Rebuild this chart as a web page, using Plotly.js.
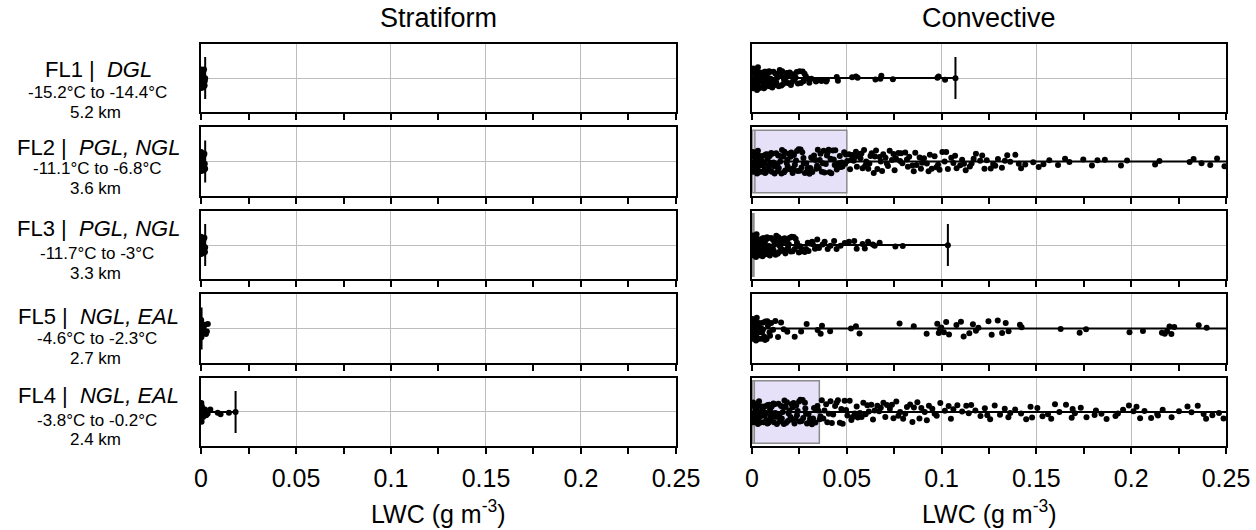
<!DOCTYPE html>
<html>
<head>
<meta charset="utf-8">
<script src="https://cdn.plot.ly/plotly-3.0.1.min.js"></script>
<style>html,body{margin:0;padding:0;background:#fff;}#chart{width:1256px;height:530px;}</style>
</head>
<body>
<div id="chart"></div>
<script>
// ---------- DATA ----------
const flightLegs = ['FL1', 'FL2', 'FL3', 'FL5', 'FL4'];
const regimes = ['DGL', 'PGL, NGL', 'PGL, NGL', 'NGL, EAL', 'NGL, EAL'];
const tempRanges = ['-15.2°C to -14.4°C', '-11.1°C to -6.8°C', '-11.7°C to -3°C', '-4.6°C to -2.3°C', '-3.8°C to -0.2°C'];
const altitudes = ['5.2 km', '3.6 km', '3.3 km', '2.7 km', '2.4 km'];
const panelTitles = ['Stratiform', 'Convective'];
const xTitle = 'LWC (g m<sup>-3</sup>)';

// Stratiform LWC samples (g m-3)
const stratFL1 = [0.0000,0.0001,0.0002,0.0002,0.0004,0.0004,0.0005,0.0007,0.0007,0.0008,0.0010,0.0011,0.0011,0.0013,0.0014,0.0016,0.0017,0.0019,0.0020,0.0022];
const stratFL2 = [0.0000,0.0001,0.0001,0.0003,0.0004,0.0005,0.0006,0.0006,0.0008,0.0009,0.0010,0.0012,0.0013,0.0015,0.0017,0.0018,0.0020,0.0022];
const stratFL3 = [0.0000,0.0000,0.0001,0.0002,0.0003,0.0004,0.0004,0.0006,0.0007,0.0009,0.0010,0.0011,0.0013,0.0014,0.0016,0.0018,0.0019,0.0021,0.0022];
const stratFL5 = [0.0000,0.0001,0.0001,0.0002,0.0003,0.0004,0.0006,0.0007,0.0009,0.0011,0.0014,0.0017,0.0021,0.0026,0.0031,0.0036];
const stratFL4 = [0.0000,0.0001,0.0002,0.0003,0.0003,0.0005,0.0006,0.0008,0.0009,0.0011,0.0014,0.0016,0.0021,0.0027,0.0035,0.0049,0.0088,0.0103,0.0147,0.0182];

// Convective LWC samples (g m-3)
const convFL1 = [0.0002,0.0004,0.0008,0.0009,0.0013,0.0014,0.0017,0.0021,0.0022,0.0026,0.0028,0.0031,0.0033,0.0037,0.0040,0.0042,0.0046,0.0049,0.0051,0.0055,0.0058,0.0062,0.0063,0.0069,0.0072,0.0074,0.0079,0.0084,0.0086,0.0092,0.0095,0.0101,0.0107,0.0110,0.0117,0.0120,0.0128,0.0132,0.0138,0.0146,0.0151,0.0159,0.0164,0.0173,0.0178,0.0188,0.0194,0.0205,0.0211,0.0223,0.0230,0.0242,0.0251,0.0267,0.0271,0.0284,0.0295,0.0313,0.0337,0.0343,0.0366,0.0391,0.0395,0.0447,0.0453,0.0528,0.0548,0.0557,0.0651,0.0677,0.0682,0.0743,0.0978,0.0984,0.1018,0.1073,
  0.0006,0.0011,0.0019,0.0024,0.0035,0.0044,0.0053,0.0067,0.0077,0.0089,0.0098,0.0113,0.0124,0.0141,0.0155,0.0168,0.0183,0.0199,0.0216,0.0236,0.0258,0.0277,0.0302];
const convFL2 = [0.0002,0.0004,0.0007,0.0009,0.0011,0.0013,0.0016,0.0018,0.0021,0.0024,0.0025,0.0029,0.0031,0.0034,0.0038,0.0041,0.0043,0.0047,0.0052,0.0054,0.0058,0.0063,0.0066,0.0069,0.0074,0.0079,0.0082,0.0086,0.0093,0.0097,0.0101,0.0106,0.0113,0.0116,0.0122,0.0127,0.0133,0.0138,0.0141,0.0149,0.0155,0.0158,0.0166,0.0171,0.0175,0.0183,0.0188,0.0194,0.0203,0.0207,0.0214,0.0221,0.0226,0.0232,0.0241,0.0246,0.0252,0.0261,0.0265,0.0273,0.0279,0.0286,0.0294,0.0298,0.0307,0.0312,0.0318,0.0327,0.0334,0.0339,0.0347,0.0352,0.0361,0.0368,0.0373,0.0382,0.0389,0.0395,0.0404,0.0409,0.0418,0.0426,0.0431,0.0439,0.0447,0.0452,0.0463,0.0468,0.0477,0.0486,0.0491,0.0502,0.0511,0.0517,0.0528,0.0536,0.0544,0.0553,0.0566,0.0572,0.0583,0.0591,0.0602,0.0613,0.0619,0.0631,0.0642,0.0648,0.0661,0.0673,0.0679,0.0692,0.0704,0.0711,0.0726,0.0738,0.0746,0.0759,0.0772,0.0781,0.0793,0.0808,0.0817,0.0829,0.0846,0.0853,0.0868,0.0884,0.0891,0.0907,0.0922,0.0931,0.0948,0.0963,0.0972,0.0989,0.1004,0.1016,0.1033,0.1051,0.1062,0.1079,0.1098,0.1108,0.1127,0.1149,0.1158,0.1181,0.1203,0.1214,0.1238,0.1259,0.1272,0.1297,0.1318,0.1334,0.1362,0.1389,0.1407,0.1441,0.1483,0.1512,0.1537,0.1568,0.1614,0.1651,0.1674,0.1747,0.1793,0.1822,0.1861,0.1946,0.1978,0.2126,0.2149,0.2308,0.2329,0.2371,0.2417,0.2453,0.2492,
  0.0005,0.0015,0.0027,0.0036,0.0049,0.0061,0.0072,0.0089,0.0104,0.0119,0.0136,0.0152,0.0169,0.0186,0.0199,0.0218,0.0237,0.0256,0.0271,0.0289,0.0303,0.0322,0.0343,0.0357,0.0378,0.0399,0.0414,0.0436,0.0458,0.0473,0.0495,0.0522,0.0548,0.0577,0.0597,0.0625,0.0654,0.0686,0.0717,0.0752,0.0786,0.0822,0.0861,0.0897,0.0938,0.0981,0.1024,0.1071,0.1118,0.1169,0.1226,0.1283,0.1346,0.1419];
const convFL3 = [0.0001,0.0003,0.0004,0.0007,0.0008,0.0010,0.0012,0.0013,0.0016,0.0018,0.0019,0.0022,0.0024,0.0027,0.0029,0.0031,0.0034,0.0037,0.0039,0.0043,0.0046,0.0048,0.0052,0.0055,0.0057,0.0062,0.0066,0.0068,0.0073,0.0077,0.0079,0.0085,0.0088,0.0094,0.0097,0.0104,0.0107,0.0114,0.0117,0.0124,0.0128,0.0135,0.0139,0.0147,0.0151,0.0159,0.0163,0.0172,0.0176,0.0185,0.0190,0.0199,0.0205,0.0214,0.0220,0.0230,0.0237,0.0247,0.0254,0.0265,0.0273,0.0285,0.0294,0.0307,0.0317,0.0332,0.0344,0.0353,0.0372,0.0383,0.0399,0.0414,0.0433,0.0446,0.0467,0.0489,0.0511,0.0539,0.0552,0.0583,0.0595,0.0612,0.0637,0.0647,0.0673,0.0756,0.0795,0.1033,
  0.0006,0.0014,0.0021,0.0033,0.0041,0.0050,0.0059,0.0071,0.0082,0.0091,0.0101,0.0111,0.0121,0.0132,0.0143,0.0155,0.0167,0.0181,0.0194,0.0209,0.0225,0.0241,0.0259,0.0278,0.0298,0.0321,0.0338];
const convFL5 = [0.0001,0.0002,0.0004,0.0006,0.0007,0.0010,0.0012,0.0014,0.0017,0.0019,0.0022,0.0025,0.0028,0.0032,0.0035,0.0039,0.0043,0.0048,0.0053,0.0058,0.0064,0.0070,0.0077,0.0084,0.0092,0.0101,0.0111,0.0123,0.0137,0.0153,0.0167,0.0186,0.0225,0.0259,0.0288,0.0346,0.0362,0.0369,0.0412,0.0522,0.0548,0.0567,0.0778,0.0853,0.0921,0.0977,0.0985,0.0991,0.0998,0.1012,0.1024,0.1039,0.1078,0.1102,0.1116,0.1146,0.1165,0.1181,0.1194,0.1247,0.1264,0.1296,0.1319,0.1338,0.1353,0.1413,0.1422,0.1628,0.1728,0.1762,0.1991,0.2062,0.2162,0.2177,0.2189,0.2202,0.2212,0.2227,0.2356,0.2398,
  0.0003,0.0009,0.0015,0.0021,0.0030,0.0037,0.0046,0.0056,0.0068,0.0081,0.0095];
const convFL4 = [0.0003,0.0004,0.0009,0.0011,0.0012,0.0018,0.0020,0.0025,0.0026,0.0031,0.0037,0.0038,0.0043,0.0049,0.0050,0.0056,0.0061,0.0064,0.0069,0.0073,0.0081,0.0083,0.0088,0.0095,0.0097,0.0104,0.0109,0.0116,0.0118,0.0126,0.0131,0.0135,0.0144,0.0147,0.0153,0.0162,0.0165,0.0171,0.0180,0.0184,0.0189,0.0197,0.0203,0.0208,0.0215,0.0224,0.0229,0.0233,0.0241,0.0252,0.0255,0.0262,0.0270,0.0279,0.0281,0.0290,0.0298,0.0306,0.0311,0.0322,0.0327,0.0334,0.0345,0.0349,0.0357,0.0368,0.0382,0.0391,0.0405,0.0414,0.0428,0.0438,0.0453,0.0463,0.0478,0.0488,0.0503,0.0515,0.0531,0.0542,0.0558,0.0569,0.0587,0.0599,0.0616,0.0629,0.0647,0.0661,0.0679,0.0693,0.0712,0.0727,0.0746,0.0761,0.0781,0.0797,0.0817,0.0834,0.0854,0.0872,0.0893,0.0911,0.0933,0.0951,0.0974,0.0993,0.1017,0.1037,0.1062,0.1083,0.1108,0.1130,0.1156,0.1178,0.1205,0.1228,0.1256,0.1280,0.1308,0.1333,0.1362,0.1388,0.1419,0.1446,0.1477,0.1505,0.1532,0.1561,0.1598,0.1621,0.1656,0.1686,0.1703,0.1734,0.1764,0.1807,0.1843,0.1870,0.1930,0.1957,0.1988,0.2012,0.2047,0.2070,0.2105,0.2141,0.2166,0.2252,0.2297,0.2318,0.2351,0.2382,0.2395,0.2428,0.2463,0.2487,
  0.0006,0.0014,0.0022,0.0029,0.0035,0.0046,0.0053,0.0067,0.0076,0.0091,0.0101,0.0113,0.0123,0.0139,0.0157,0.0168,0.0177,0.0193,0.0211,0.0219,0.0237,0.0248,0.0267,0.0285,0.0302,0.0316,0.0339,0.0361,0.0376,0.0397,0.0421,0.0446,0.0471,0.0496,0.0524,0.0552,0.0578,0.0608,0.0638,0.0671,0.0703,0.0738,0.0772,0.0808,0.0846,0.0883,0.0922,0.0963,0.1049,0.1143,0.1241,0.1352,0.1469,0.1578,0.1691,0.1814,0.1917,0.2028,0.2137,0.2213];

// Box statistics (q1, median, q3) and whisker extent per flight leg
const stratQ1 = [0, 0, 0, 0, 0];
const stratMedian = [0, 0, 0, 0, 0];
const stratQ3 = [0, 0, 0, 0, 0];
const stratMin = [0, 0, 0, 0, 0];
const stratMax = [0.0022, 0.0022, 0.0022, 0.0003, 0.0182];
const convQ1 = [0, 0.0002, 0.0000, 0, 0.0002];
const convMedian = [0, 0.0015, 0.0004, 0, 0.0012];
const convQ3 = [0, 0.0500, 0.0010, 0, 0.0355];
const convMin = [0, 0, 0, 0, 0];
const convMax = [0.1073, 0.3000, 0.1033, 0.3000, 0.3000];

const stratData = [stratFL1, stratFL2, stratFL3, stratFL5, stratFL4];
const convData = [convFL1, convFL2, convFL3, convFL5, convFL4];

// ---------- LAYOUT GEOMETRY ----------
const FONT = 'Liberation Sans, Arial, Helvetica, sans-serif';
const xDomains = [[0, 0.4634], [0.5376, 1]];
const yDomains = [[0.8308, 1], [0.6231, 0.7923], [0.4154, 0.5846], [0.2077, 0.3769], [0, 0.1692]];

const traces = [];
const layout = {
  width: 1256, height: 530,
  margin: {l: 201, r: 30, t: 44, b: 84},
  paper_bgcolor: '#fff', plot_bgcolor: '#fff',
  showlegend: false,
  boxmode: 'overlay',
  font: {family: FONT, color: '#000'},
  annotations: []
};

function axName(n, letter) { return letter + (n === 1 ? '' : n); }

function addPanel(axIdx, col, row, data, q1, med, q3, wmin, wmax) {
  const xa = axName(axIdx, 'x'), ya = axName(axIdx, 'y');
  if (q3 > q1) {
    traces.push({
      type: 'box', orientation: 'h', y: [0], q1: [q1], median: [med], q3: [q3],
      lowerfence: [q1], upperfence: [q3], width: 0.92, whiskerwidth: 0,
      fillcolor: '#e6e0f8', line: {color: '#8c8c8c', width: 1.5},
      boxpoints: false, hoverinfo: 'skip', xaxis: xa, yaxis: ya
    });
  }
  traces.push({
    type: 'box', orientation: 'h', x: data, y0: 0, boxpoints: 'all', jitter: 1, pointpos: 0,
    width: 0.36, fillcolor: 'rgba(0,0,0,0)', line: {width: 0, color: 'rgba(0,0,0,0)'},
    marker: {color: '#000', size: 6}, hoverinfo: 'skip', xaxis: xa, yaxis: ya
  });
  traces.push({
    type: 'scatter', mode: 'lines', x: [wmin, wmax], y: [0, 0],
    line: {color: '#000', width: 2}, hoverinfo: 'skip', xaxis: xa, yaxis: ya
  });
  traces.push({
    type: 'scatter', mode: 'markers', x: [wmax], y: [0],
    marker: {symbol: 'line-ns', size: 30, color: '#000', line: {color: '#000', width: 2}},
    hoverinfo: 'skip', xaxis: xa, yaxis: ya
  });
  const isBottom = row === 4;
  layout['xaxis' + (axIdx === 1 ? '' : axIdx)] = {
    domain: xDomains[col], anchor: ya, range: [0, 0.25], fixedrange: true,
    tick0: 0, dtick: 0.05, ticks: 'outside', ticklen: 6, tickwidth: 2, tickcolor: '#000',
    minor: {dtick: 0.025, ticks: 'outside', ticklen: 6, tickwidth: 2, tickcolor: '#000', showgrid: false},
    showgrid: true, gridcolor: '#bdbdbd', gridwidth: 1, zeroline: false,
    showline: true, linecolor: '#000', linewidth: 2, mirror: true,
    showticklabels: isBottom, tickfont: {family: FONT, size: 25, color: '#000'},
    ticklabelstandoff: 3
  };
  layout['yaxis' + (axIdx === 1 ? '' : axIdx)] = {
    domain: yDomains[row], anchor: xa, range: [-0.5, 0.5], fixedrange: true,
    tickvals: [0], showticklabels: false, ticks: '',
    showgrid: true, gridcolor: '#bdbdbd', gridwidth: 1, zeroline: false,
    showline: true, linecolor: '#000', linewidth: 2, mirror: true
  };
}

for (let r = 0; r < 5; r++) {
  addPanel(r + 1, 0, r, stratData[r], stratQ1[r], stratMedian[r], stratQ3[r], stratMin[r], stratMax[r]);
  addPanel(r + 6, 1, r, convData[r], convQ1[r], convMedian[r], convQ3[r], convMin[r], convMax[r]);
}

// Column titles and axis titles
const PLOT_BOTTOM = 446, PLOT_H = 402, PLOT_L = 201, PLOT_W = 1025;
function py(p) { return (PLOT_BOTTOM - p) / PLOT_H; }
function px(p) { return (p - PLOT_L) / PLOT_W; }
for (let c = 0; c < 2; c++) {
  const xc = (xDomains[c][0] + xDomains[c][1]) / 2;
  layout.annotations.push({xref: 'paper', yref: 'paper', x: xc, y: py(18), xanchor: 'center', yanchor: 'middle',
    text: panelTitles[c], showarrow: false, font: {family: FONT, size: 27, color: '#000'}});
  layout.annotations.push({xref: 'paper', yref: 'paper', x: xc, y: py(512), xanchor: 'center', yanchor: 'middle',
    text: xTitle, showarrow: false, font: {family: FONT, size: 25, color: '#000'}});
}

// Row labels
const line1Y = [69, 147, 228, 316, 395];
const line2Y = [93, 168, 253, 338, 420];
const line3Y = [112, 188, 273, 358, 439];
for (let r = 0; r < 5; r++) {
  layout.annotations.push({xref: 'paper', yref: 'paper', x: px(98), y: py(line1Y[r]), xanchor: 'center', yanchor: 'middle',
    text: flightLegs[r] + ' |\u00a0\u00a0<i>' + regimes[r] + '</i>', showarrow: false, font: {family: FONT, size: 22, color: '#000'}});
  layout.annotations.push({xref: 'paper', yref: 'paper', x: px(97), y: py(line2Y[r]), xanchor: 'center', yanchor: 'middle',
    text: tempRanges[r], showarrow: false, font: {family: FONT, size: 17, color: '#000'}});
  layout.annotations.push({xref: 'paper', yref: 'paper', x: px(95), y: py(line3Y[r]), xanchor: 'center', yanchor: 'middle',
    text: altitudes[r], showarrow: false, font: {family: FONT, size: 17, color: '#000'}});
}

Plotly.newPlot('chart', traces, layout, {displayModeBar: false, staticPlot: true});
</script>
</body>
</html>
